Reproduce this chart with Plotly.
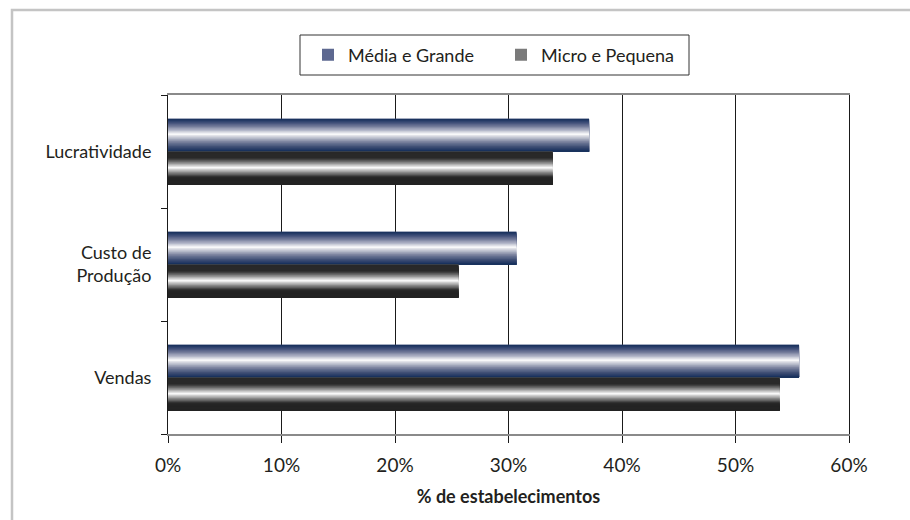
import plotly.graph_objects as go

# ---- data ----
categories = ["Vendas", "Custo de<br>Produção", "Lucratividade"]
media_grande = [55.6, 30.7, 37.1]
micro_pequena = [53.9, 25.6, 33.9]
series_names = ["Média e Grande", "Micro e Pequena"]
x_ticks = [0, 10, 20, 30, 40, 50, 60]
x_tick_labels = ["0%", "10%", "20%", "30%", "40%", "50%", "60%"]

FONT = "Lato, Roboto, sans-serif"
TXT = "#231f20"

# plot-area pixel geometry (style)
PL, PR, PT, PB = 168, 849, 95, 434
PW, PH = PR - PL, PB - PT


def px_x(px):
    return (px - PL) / PW


def px_y(py):
    return (PB - py) / PH


# ---- gradient styles (position from top of bar, colour) ----
media_stops = [(0.00, (20, 46, 90)), (0.08, (45, 64, 108)), (0.22, (110, 118, 150)),
               (0.36, (180, 184, 202)), (0.47, (255, 255, 255)), (0.56, (200, 203, 214)),
               (0.70, (125, 132, 160)), (0.86, (60, 76, 115)), (1.00, (20, 46, 90))]
micro_stops = [(0.00, (40, 40, 40)), (0.20, (42, 42, 42)), (0.29, (96, 96, 96)),
               (0.39, (168, 168, 168)), (0.49, (255, 255, 255)), (0.56, (200, 200, 200)),
               (0.64, (138, 138, 138)), (0.72, (80, 80, 80)), (0.79, (36, 36, 36)),
               (1.00, (34, 34, 34))]


def color_at(stops, t):
    for (t0, c0), (t1, c1) in zip(stops[:-1], stops[1:]):
        if t0 <= t <= t1:
            f = 0 if t1 == t0 else (t - t0) / (t1 - t0)
            c = [round(a + (b - a) * f) for a, b in zip(c0, c1)]
            return "rgb(%d,%d,%d)" % tuple(c)
    c = stops[-1][1]
    return "rgb(%d,%d,%d)" % c


BAR_W = 0.29
N = 28
fig = go.Figure()


def add_series(values, name, stops, legend_color, above):
    base_offset = 0 if above else -BAR_W
    fig.add_trace(go.Bar(
        y=categories, x=values, orientation="h", name=name, legendgroup=name,
        showlegend=True, width=BAR_W, offset=base_offset,
        marker=dict(color=legend_color, line=dict(width=0)), hoverinfo="skip"))
    for k in range(N):
        t_top = k / N
        t_mid = (k + 0.5) / N
        w = BAR_W * (1 - t_top)
        fig.add_trace(go.Bar(
            y=categories, x=values, orientation="h", name=name, legendgroup=name,
            showlegend=False, width=w, offset=base_offset,
            marker=dict(color=color_at(stops, t_mid), line=dict(width=0)),
            hovertemplate=name + ": %{x}%<extra></extra>"))


add_series(media_grande, series_names[0], media_stops, "#5d6890", True)
add_series(micro_pequena, series_names[1], micro_stops, "#7a7a7a", False)

fig.update_layout(
    width=910, height=520,
    barmode="overlay",
    paper_bgcolor="white", plot_bgcolor="white",
    margin=dict(l=PL, r=910 - PR, t=PT, b=520 - PB),
    font=dict(family=FONT, size=18, color=TXT),
    legend=dict(orientation="h", x=px_x(308), xanchor="left", y=px_y(55), yanchor="middle",
                borderwidth=0, bgcolor="rgba(0,0,0,0)", entrywidth=148,
                font=dict(family=FONT, size=18, color=TXT), itemwidth=30,
                traceorder="normal"),
    showlegend=True,
)

fig.update_xaxes(
    range=[0, 60], tickvals=x_ticks, ticktext=x_tick_labels,
    showgrid=True, gridcolor="#1a1a1a", gridwidth=1, zeroline=False,
    showline=True, linecolor="#8a8a8a", linewidth=1.5, mirror=True,
    ticks="outside", ticklen=7, tickcolor="#1a1a1a", tickwidth=1,
    ticklabelstandoff=6,
    tickfont=dict(family=FONT, size=19, color=TXT),
    title=dict(text="<b>% de estabelecimentos</b>", standoff=16,
               font=dict(family=FONT, size=18, color=TXT)),
)

fig.update_yaxes(
    type="category", categoryorder="array", categoryarray=categories,
    range=[-0.5, 2.5], showgrid=False, zeroline=False,
    showline=True, linecolor="#1a1a1a", linewidth=1, mirror=True,
    ticks="outside", ticklen=6, tickcolor="#1a1a1a", tickson="boundaries",
    ticklabelstandoff=12,
    tickfont=dict(family=FONT, size=18, color=TXT),
)

# legend frame
fig.add_shape(type="rect", xref="paper", yref="paper",
              x0=px_x(300), x1=px_x(689), y0=px_y(75), y1=px_y(35),
              line=dict(color="#333333", width=1), fillcolor="rgba(0,0,0,0)", layer="above")

# outer frame of the figure
fig.add_shape(type="rect", xref="paper", yref="paper",
              x0=px_x(12), x1=px_x(915), y0=px_y(525), y1=px_y(10),
              line=dict(color="#c4c4c4", width=2.5), fillcolor="rgba(0,0,0,0)", layer="below")

fig.write_html("out.html", config={"displayModeBar": False},
               post_script="document.body.style.margin='0';")
